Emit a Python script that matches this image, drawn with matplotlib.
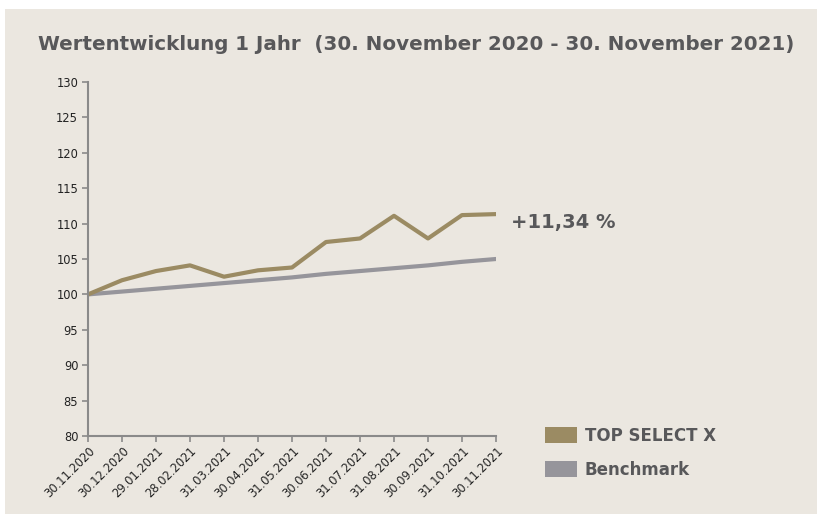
import matplotlib
matplotlib.use('Agg')
import matplotlib.pyplot as plt
from matplotlib.patches import Patch, Rectangle

dates = ['30.11.2020', '30.12.2020', '29.01.2021', '28.02.2021', '31.03.2021',
         '30.04.2021', '31.05.2021', '30.06.2021', '31.07.2021', '31.08.2021',
         '30.09.2021', '31.10.2021', '30.11.2021']
top_select = [100.0, 102.0, 103.3, 104.1, 102.5, 103.4, 103.8,
              107.4, 107.9, 111.1, 107.9, 111.2, 111.34]
benchmark = [100.0, 100.4, 100.8, 101.2, 101.6, 102.0, 102.4,
             102.9, 103.3, 103.7, 104.1, 104.6, 105.0]
perf_label = '+11,34 %'
title = 'Wertentwicklung 1 Jahr  (30. November 2020 - 30. November 2021)'

bg = '#ebe7e0'
gold = '#9b8b63'
grey = '#96959b'
txt = '#58585a'

fig = plt.figure(figsize=(8.17, 5.14), dpi=100)
fig.patch.set_facecolor('white')
fig.add_artist(Rectangle((5 / 817, 0), 1, 1 - 9 / 514, transform=fig.transFigure,
                         facecolor=bg, edgecolor='none', zorder=-10))

ax = fig.add_axes([88 / 817, 1 - 436 / 514, 408 / 817, 354 / 514])
ax.set_facecolor('none')
x = list(range(len(dates)))
ax.plot(x, benchmark, color=grey, lw=3.0, solid_capstyle='round')
ax.plot(x, top_select, color=gold, lw=3.0, solid_capstyle='round')

ax.set_xlim(0, len(dates) - 1)
ax.set_ylim(80, 130)
ax.set_yticks(range(80, 131, 5))
ax.set_xticks(x)
ax.set_xticklabels(dates, rotation=45, ha='right', rotation_mode='anchor')
for s in ['top', 'right']:
    ax.spines[s].set_visible(False)
for s in ['left', 'bottom']:
    ax.spines[s].set_color('#8a8a8a')
    ax.spines[s].set_linewidth(1.5)
ax.tick_params(axis='both', colors='#8a8a8a', width=1.2, length=4,
               labelcolor='#222222', labelsize=8.3)
ax.tick_params(axis='y', pad=3)
ax.tick_params(axis='x', pad=2)

ax.annotate(perf_label, xy=(x[-1], top_select[-1]), xytext=(11, -6),
            textcoords='offset points', fontsize=14, fontweight='bold',
            color=txt, va='center', ha='left')

fig.text(416 / 817, 1 - 45 / 514, title, fontsize=14.3, fontweight='bold',
         color=txt, ha='center', va='center')

handles = [Patch(facecolor=gold, label='TOP SELECT X'),
           Patch(facecolor=grey, label='Benchmark')]
fig.legend(handles=handles, loc='upper left', bbox_to_anchor=(530 / 817, 1 - 412 / 514),
           frameon=False, handlelength=1.92, handleheight=1.1, handletextpad=0.48,
           labelspacing=0.95, prop={'size': 12, 'weight': 'bold'}, labelcolor=txt)

fig.savefig('out.png', dpi=100, facecolor=fig.get_facecolor())
